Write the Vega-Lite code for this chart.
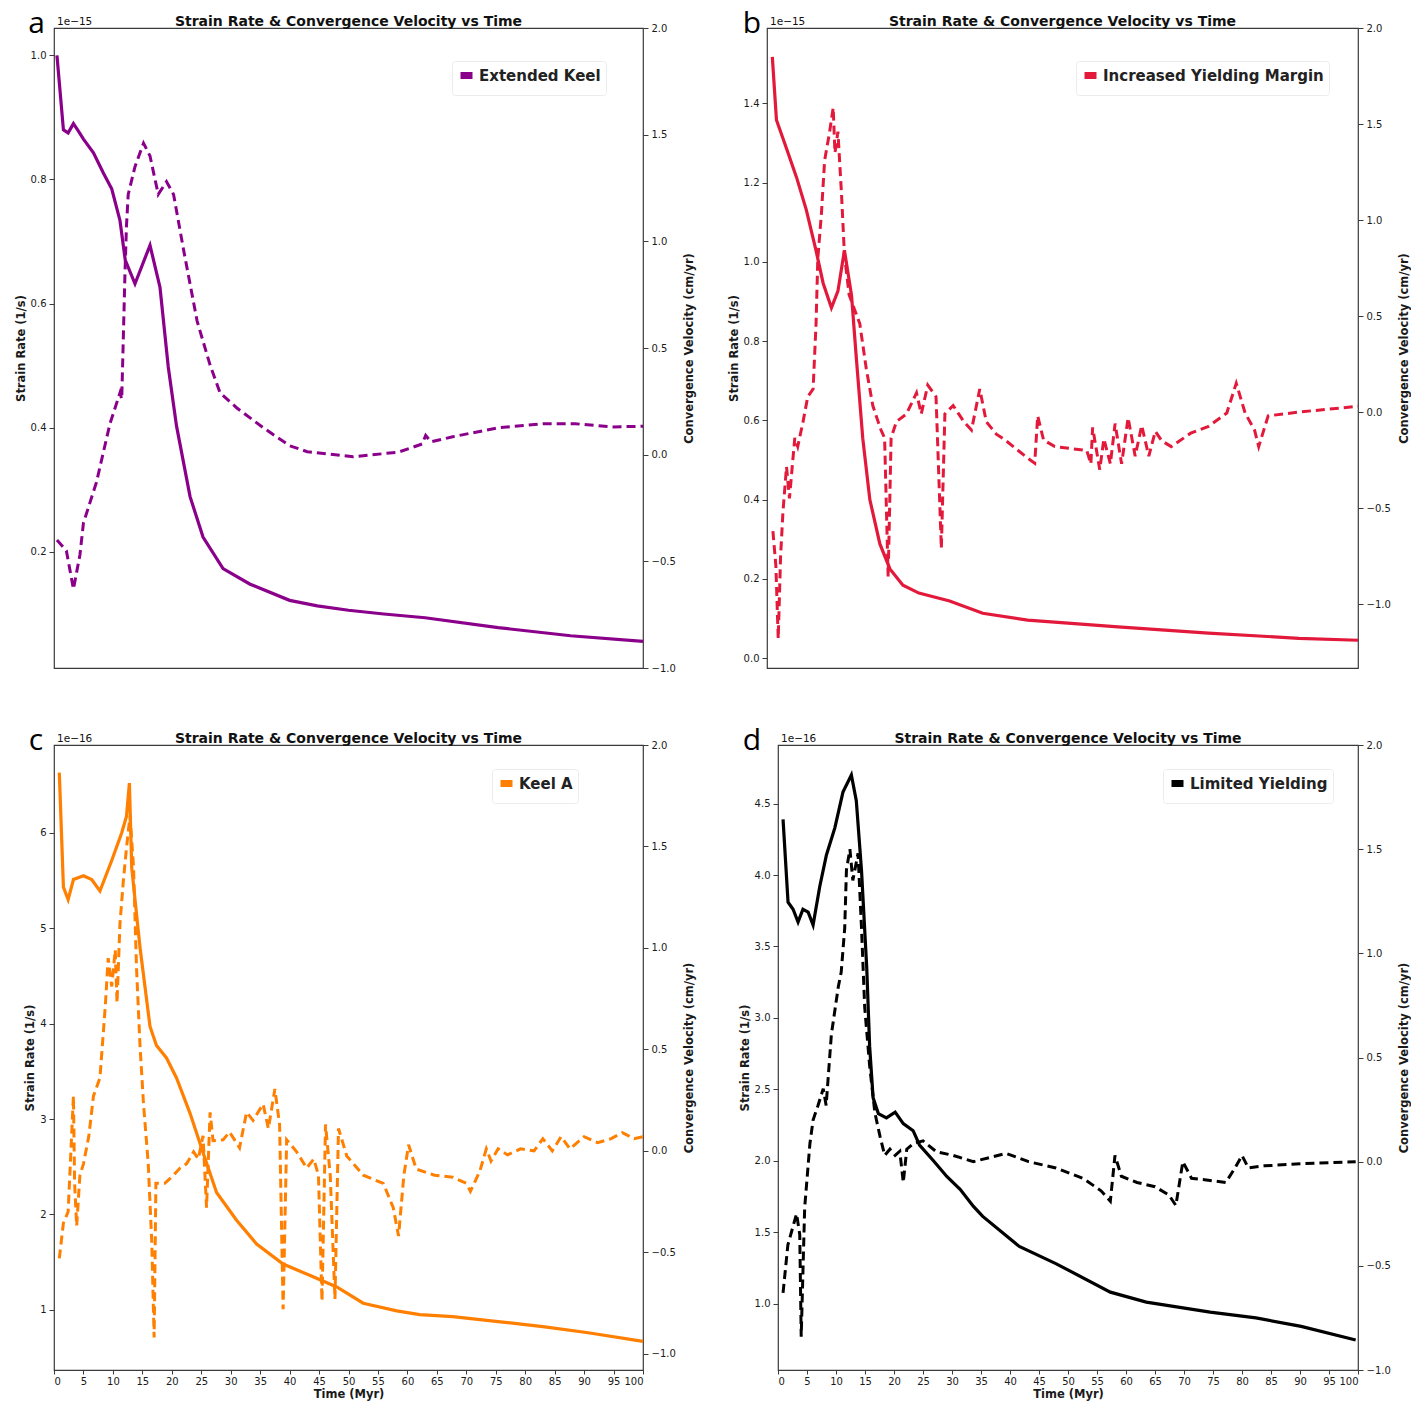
{
  "$schema": "https://vega.github.io/schema/vega-lite/v6.json",
  "padding": {"left": 14, "top": 8, "right": 0, "bottom": 0},
  "background": "white",
  "datasets": {
    "a_strain": [
      {"model": "Extended Keel", "time_myr": 0.5, "strain_rate": 1.0e-15},
      {"model": "Extended Keel", "time_myr": 1.6, "strain_rate": 0.88e-15},
      {"model": "Extended Keel", "time_myr": 2.4, "strain_rate": 0.875e-15},
      {"model": "Extended Keel", "time_myr": 3.3, "strain_rate": 0.89e-15},
      {"model": "Extended Keel", "time_myr": 4.2, "strain_rate": 0.877e-15},
      {"model": "Extended Keel", "time_myr": 5.0, "strain_rate": 0.865e-15},
      {"model": "Extended Keel", "time_myr": 6.7, "strain_rate": 0.843e-15},
      {"model": "Extended Keel", "time_myr": 8.4, "strain_rate": 0.81e-15},
      {"model": "Extended Keel", "time_myr": 9.8, "strain_rate": 0.785e-15},
      {"model": "Extended Keel", "time_myr": 11.2, "strain_rate": 0.734e-15},
      {"model": "Extended Keel", "time_myr": 12.1, "strain_rate": 0.67e-15},
      {"model": "Extended Keel", "time_myr": 13.75, "strain_rate": 0.632e-15},
      {"model": "Extended Keel", "time_myr": 16.3, "strain_rate": 0.694e-15},
      {"model": "Extended Keel", "time_myr": 18.0, "strain_rate": 0.626e-15},
      {"model": "Extended Keel", "time_myr": 19.4, "strain_rate": 0.498e-15},
      {"model": "Extended Keel", "time_myr": 20.8, "strain_rate": 0.403e-15},
      {"model": "Extended Keel", "time_myr": 23.1, "strain_rate": 0.289e-15},
      {"model": "Extended Keel", "time_myr": 25.3, "strain_rate": 0.224e-15},
      {"model": "Extended Keel", "time_myr": 28.7, "strain_rate": 0.173e-15},
      {"model": "Extended Keel", "time_myr": 33.3, "strain_rate": 0.148e-15},
      {"model": "Extended Keel", "time_myr": 40.0, "strain_rate": 0.122e-15},
      {"model": "Extended Keel", "time_myr": 44.7, "strain_rate": 0.113e-15},
      {"model": "Extended Keel", "time_myr": 50.0, "strain_rate": 0.106e-15},
      {"model": "Extended Keel", "time_myr": 56.0, "strain_rate": 0.1e-15},
      {"model": "Extended Keel", "time_myr": 63.0, "strain_rate": 0.094e-15},
      {"model": "Extended Keel", "time_myr": 75.4, "strain_rate": 0.078e-15},
      {"model": "Extended Keel", "time_myr": 87.7, "strain_rate": 0.065e-15},
      {"model": "Extended Keel", "time_myr": 100.0, "strain_rate": 0.056e-15}
    ],
    "a_vel": [
      {"model": "Extended Keel", "time_myr": 0.5, "velocity_cm_yr": -0.40},
      {"model": "Extended Keel", "time_myr": 2.1, "velocity_cm_yr": -0.45},
      {"model": "Extended Keel", "time_myr": 3.3, "velocity_cm_yr": -0.63},
      {"model": "Extended Keel", "time_myr": 4.4, "velocity_cm_yr": -0.47},
      {"model": "Extended Keel", "time_myr": 5.0, "velocity_cm_yr": -0.32},
      {"model": "Extended Keel", "time_myr": 7.2, "velocity_cm_yr": -0.13},
      {"model": "Extended Keel", "time_myr": 9.5, "velocity_cm_yr": 0.145},
      {"model": "Extended Keel", "time_myr": 11.2, "velocity_cm_yr": 0.29},
      {"model": "Extended Keel", "time_myr": 11.5, "velocity_cm_yr": 0.26},
      {"model": "Extended Keel", "time_myr": 12.05, "velocity_cm_yr": 0.85},
      {"model": "Extended Keel", "time_myr": 12.3, "velocity_cm_yr": 1.07},
      {"model": "Extended Keel", "time_myr": 12.6, "velocity_cm_yr": 1.22},
      {"model": "Extended Keel", "time_myr": 13.75, "velocity_cm_yr": 1.35},
      {"model": "Extended Keel", "time_myr": 15.2, "velocity_cm_yr": 1.46},
      {"model": "Extended Keel", "time_myr": 16.3, "velocity_cm_yr": 1.40},
      {"model": "Extended Keel", "time_myr": 17.7, "velocity_cm_yr": 1.22},
      {"model": "Extended Keel", "time_myr": 19.1, "velocity_cm_yr": 1.28},
      {"model": "Extended Keel", "time_myr": 20.3, "velocity_cm_yr": 1.22},
      {"model": "Extended Keel", "time_myr": 22.0, "velocity_cm_yr": 0.96},
      {"model": "Extended Keel", "time_myr": 24.3, "velocity_cm_yr": 0.626},
      {"model": "Extended Keel", "time_myr": 26.5, "velocity_cm_yr": 0.42},
      {"model": "Extended Keel", "time_myr": 28.2, "velocity_cm_yr": 0.29},
      {"model": "Extended Keel", "time_myr": 31.0, "velocity_cm_yr": 0.22},
      {"model": "Extended Keel", "time_myr": 35.5, "velocity_cm_yr": 0.127},
      {"model": "Extended Keel", "time_myr": 40.0, "velocity_cm_yr": 0.042},
      {"model": "Extended Keel", "time_myr": 43.0, "velocity_cm_yr": 0.014},
      {"model": "Extended Keel", "time_myr": 50.8, "velocity_cm_yr": -0.01},
      {"model": "Extended Keel", "time_myr": 58.5, "velocity_cm_yr": 0.012},
      {"model": "Extended Keel", "time_myr": 62.5, "velocity_cm_yr": 0.05},
      {"model": "Extended Keel", "time_myr": 63.1, "velocity_cm_yr": 0.09},
      {"model": "Extended Keel", "time_myr": 64.0, "velocity_cm_yr": 0.06},
      {"model": "Extended Keel", "time_myr": 67.7, "velocity_cm_yr": 0.084},
      {"model": "Extended Keel", "time_myr": 75.4, "velocity_cm_yr": 0.126},
      {"model": "Extended Keel", "time_myr": 83.1, "velocity_cm_yr": 0.145},
      {"model": "Extended Keel", "time_myr": 88.5, "velocity_cm_yr": 0.145},
      {"model": "Extended Keel", "time_myr": 94.6, "velocity_cm_yr": 0.13},
      {"model": "Extended Keel", "time_myr": 100.0, "velocity_cm_yr": 0.133}
    ],
    "b_strain": [
      {"model": "Increased Yielding Margin", "time_myr": 0.9, "strain_rate": 1.517e-15},
      {"model": "Increased Yielding Margin", "time_myr": 1.6, "strain_rate": 1.358e-15},
      {"model": "Increased Yielding Margin", "time_myr": 3.3, "strain_rate": 1.286e-15},
      {"model": "Increased Yielding Margin", "time_myr": 5.0, "strain_rate": 1.213e-15},
      {"model": "Increased Yielding Margin", "time_myr": 6.65, "strain_rate": 1.131e-15},
      {"model": "Increased Yielding Margin", "time_myr": 8.3, "strain_rate": 1.028e-15},
      {"model": "Increased Yielding Margin", "time_myr": 9.5, "strain_rate": 0.946e-15},
      {"model": "Increased Yielding Margin", "time_myr": 10.9, "strain_rate": 0.884e-15},
      {"model": "Increased Yielding Margin", "time_myr": 12.0, "strain_rate": 0.926e-15},
      {"model": "Increased Yielding Margin", "time_myr": 13.1, "strain_rate": 1.029e-15},
      {"model": "Increased Yielding Margin", "time_myr": 14.3, "strain_rate": 0.916e-15},
      {"model": "Increased Yielding Margin", "time_myr": 15.1, "strain_rate": 0.76e-15},
      {"model": "Increased Yielding Margin", "time_myr": 16.2, "strain_rate": 0.555e-15},
      {"model": "Increased Yielding Margin", "time_myr": 17.4, "strain_rate": 0.40e-15},
      {"model": "Increased Yielding Margin", "time_myr": 19.1, "strain_rate": 0.288e-15},
      {"model": "Increased Yielding Margin", "time_myr": 20.8, "strain_rate": 0.225e-15},
      {"model": "Increased Yielding Margin", "time_myr": 23.0, "strain_rate": 0.184e-15},
      {"model": "Increased Yielding Margin", "time_myr": 25.7, "strain_rate": 0.164e-15},
      {"model": "Increased Yielding Margin", "time_myr": 30.9, "strain_rate": 0.144e-15},
      {"model": "Increased Yielding Margin", "time_myr": 36.5, "strain_rate": 0.113e-15},
      {"model": "Increased Yielding Margin", "time_myr": 44.1, "strain_rate": 0.096e-15},
      {"model": "Increased Yielding Margin", "time_myr": 59.4, "strain_rate": 0.079e-15},
      {"model": "Increased Yielding Margin", "time_myr": 74.7, "strain_rate": 0.063e-15},
      {"model": "Increased Yielding Margin", "time_myr": 90.0, "strain_rate": 0.05e-15},
      {"model": "Increased Yielding Margin", "time_myr": 100.0, "strain_rate": 0.045e-15}
    ],
    "b_vel": [
      {"model": "Increased Yielding Margin", "time_myr": 1.0, "velocity_cm_yr": -0.62},
      {"model": "Increased Yielding Margin", "time_myr": 1.5, "velocity_cm_yr": -0.80},
      {"model": "Increased Yielding Margin", "time_myr": 1.9, "velocity_cm_yr": -1.18},
      {"model": "Increased Yielding Margin", "time_myr": 2.3, "velocity_cm_yr": -0.75},
      {"model": "Increased Yielding Margin", "time_myr": 2.7, "velocity_cm_yr": -0.52},
      {"model": "Increased Yielding Margin", "time_myr": 3.3, "velocity_cm_yr": -0.285},
      {"model": "Increased Yielding Margin", "time_myr": 3.8, "velocity_cm_yr": -0.45},
      {"model": "Increased Yielding Margin", "time_myr": 4.7, "velocity_cm_yr": -0.135},
      {"model": "Increased Yielding Margin", "time_myr": 5.2, "velocity_cm_yr": -0.18},
      {"model": "Increased Yielding Margin", "time_myr": 6.1, "velocity_cm_yr": -0.05},
      {"model": "Increased Yielding Margin", "time_myr": 6.9, "velocity_cm_yr": 0.08},
      {"model": "Increased Yielding Margin", "time_myr": 7.8, "velocity_cm_yr": 0.12},
      {"model": "Increased Yielding Margin", "time_myr": 8.3, "velocity_cm_yr": 0.46},
      {"model": "Increased Yielding Margin", "time_myr": 8.6, "velocity_cm_yr": 0.80},
      {"model": "Increased Yielding Margin", "time_myr": 9.2, "velocity_cm_yr": 1.03},
      {"model": "Increased Yielding Margin", "time_myr": 9.75, "velocity_cm_yr": 1.31},
      {"model": "Increased Yielding Margin", "time_myr": 10.6, "velocity_cm_yr": 1.46},
      {"model": "Increased Yielding Margin", "time_myr": 11.2, "velocity_cm_yr": 1.585},
      {"model": "Increased Yielding Margin", "time_myr": 11.5, "velocity_cm_yr": 1.35},
      {"model": "Increased Yielding Margin", "time_myr": 12.0, "velocity_cm_yr": 1.46},
      {"model": "Increased Yielding Margin", "time_myr": 12.6, "velocity_cm_yr": 1.14},
      {"model": "Increased Yielding Margin", "time_myr": 13.1, "velocity_cm_yr": 0.82},
      {"model": "Increased Yielding Margin", "time_myr": 13.9, "velocity_cm_yr": 0.61},
      {"model": "Increased Yielding Margin", "time_myr": 15.7, "velocity_cm_yr": 0.46},
      {"model": "Increased Yielding Margin", "time_myr": 16.8, "velocity_cm_yr": 0.225},
      {"model": "Increased Yielding Margin", "time_myr": 17.9, "velocity_cm_yr": 0.034},
      {"model": "Increased Yielding Margin", "time_myr": 18.8, "velocity_cm_yr": -0.05},
      {"model": "Increased Yielding Margin", "time_myr": 19.3, "velocity_cm_yr": -0.094},
      {"model": "Increased Yielding Margin", "time_myr": 19.9, "velocity_cm_yr": -0.135},
      {"model": "Increased Yielding Margin", "time_myr": 20.5, "velocity_cm_yr": -0.86},
      {"model": "Increased Yielding Margin", "time_myr": 21.0, "velocity_cm_yr": -0.135},
      {"model": "Increased Yielding Margin", "time_myr": 21.9, "velocity_cm_yr": -0.05},
      {"model": "Increased Yielding Margin", "time_myr": 23.6, "velocity_cm_yr": -0.01},
      {"model": "Increased Yielding Margin", "time_myr": 25.3, "velocity_cm_yr": 0.10},
      {"model": "Increased Yielding Margin", "time_myr": 26.1, "velocity_cm_yr": -0.01},
      {"model": "Increased Yielding Margin", "time_myr": 27.2, "velocity_cm_yr": 0.14},
      {"model": "Increased Yielding Margin", "time_myr": 28.6, "velocity_cm_yr": 0.08},
      {"model": "Increased Yielding Margin", "time_myr": 29.5, "velocity_cm_yr": -0.71},
      {"model": "Increased Yielding Margin", "time_myr": 30.1, "velocity_cm_yr": -0.01},
      {"model": "Increased Yielding Margin", "time_myr": 31.5, "velocity_cm_yr": 0.034},
      {"model": "Increased Yielding Margin", "time_myr": 33.3, "velocity_cm_yr": -0.05},
      {"model": "Increased Yielding Margin", "time_myr": 34.6, "velocity_cm_yr": -0.094},
      {"model": "Increased Yielding Margin", "time_myr": 36.0, "velocity_cm_yr": 0.12},
      {"model": "Increased Yielding Margin", "time_myr": 37.1, "velocity_cm_yr": -0.05},
      {"model": "Increased Yielding Margin", "time_myr": 38.8, "velocity_cm_yr": -0.115},
      {"model": "Increased Yielding Margin", "time_myr": 40.3, "velocity_cm_yr": -0.146},
      {"model": "Increased Yielding Margin", "time_myr": 44.1, "velocity_cm_yr": -0.24},
      {"model": "Increased Yielding Margin", "time_myr": 45.3, "velocity_cm_yr": -0.266},
      {"model": "Increased Yielding Margin", "time_myr": 45.8, "velocity_cm_yr": -0.02},
      {"model": "Increased Yielding Margin", "time_myr": 46.8, "velocity_cm_yr": -0.146},
      {"model": "Increased Yielding Margin", "time_myr": 48.7, "velocity_cm_yr": -0.18},
      {"model": "Increased Yielding Margin", "time_myr": 54.1, "velocity_cm_yr": -0.2},
      {"model": "Increased Yielding Margin", "time_myr": 54.8, "velocity_cm_yr": -0.27},
      {"model": "Increased Yielding Margin", "time_myr": 55.1, "velocity_cm_yr": -0.08},
      {"model": "Increased Yielding Margin", "time_myr": 56.3, "velocity_cm_yr": -0.30},
      {"model": "Increased Yielding Margin", "time_myr": 57.0, "velocity_cm_yr": -0.14},
      {"model": "Increased Yielding Margin", "time_myr": 58.1, "velocity_cm_yr": -0.27},
      {"model": "Increased Yielding Margin", "time_myr": 58.9, "velocity_cm_yr": -0.06},
      {"model": "Increased Yielding Margin", "time_myr": 60.0, "velocity_cm_yr": -0.27},
      {"model": "Increased Yielding Margin", "time_myr": 61.1, "velocity_cm_yr": -0.03},
      {"model": "Increased Yielding Margin", "time_myr": 62.3, "velocity_cm_yr": -0.23},
      {"model": "Increased Yielding Margin", "time_myr": 63.4, "velocity_cm_yr": -0.07},
      {"model": "Increased Yielding Margin", "time_myr": 64.6, "velocity_cm_yr": -0.23},
      {"model": "Increased Yielding Margin", "time_myr": 65.7, "velocity_cm_yr": -0.10},
      {"model": "Increased Yielding Margin", "time_myr": 66.8, "velocity_cm_yr": -0.15},
      {"model": "Increased Yielding Margin", "time_myr": 68.4, "velocity_cm_yr": -0.18},
      {"model": "Increased Yielding Margin", "time_myr": 71.7, "velocity_cm_yr": -0.11},
      {"model": "Increased Yielding Margin", "time_myr": 74.7, "velocity_cm_yr": -0.075},
      {"model": "Increased Yielding Margin", "time_myr": 77.8, "velocity_cm_yr": -0.005},
      {"model": "Increased Yielding Margin", "time_myr": 79.4, "velocity_cm_yr": 0.15},
      {"model": "Increased Yielding Margin", "time_myr": 80.9, "velocity_cm_yr": -0.005},
      {"model": "Increased Yielding Margin", "time_myr": 82.5, "velocity_cm_yr": -0.094},
      {"model": "Increased Yielding Margin", "time_myr": 83.2, "velocity_cm_yr": -0.18},
      {"model": "Increased Yielding Margin", "time_myr": 84.8, "velocity_cm_yr": -0.02},
      {"model": "Increased Yielding Margin", "time_myr": 90.0, "velocity_cm_yr": 0.0},
      {"model": "Increased Yielding Margin", "time_myr": 100.0, "velocity_cm_yr": 0.03}
    ],
    "c_strain": [
      {"model": "Keel A", "time_myr": 0.9, "strain_rate": 6.63e-16},
      {"model": "Keel A", "time_myr": 1.6, "strain_rate": 5.43e-16},
      {"model": "Keel A", "time_myr": 2.4, "strain_rate": 5.30e-16},
      {"model": "Keel A", "time_myr": 3.3, "strain_rate": 5.51e-16},
      {"model": "Keel A", "time_myr": 5.0, "strain_rate": 5.55e-16},
      {"model": "Keel A", "time_myr": 6.4, "strain_rate": 5.51e-16},
      {"model": "Keel A", "time_myr": 7.8, "strain_rate": 5.39e-16},
      {"model": "Keel A", "time_myr": 9.8, "strain_rate": 5.71e-16},
      {"model": "Keel A", "time_myr": 11.5, "strain_rate": 6.0e-16},
      {"model": "Keel A", "time_myr": 12.3, "strain_rate": 6.17e-16},
      {"model": "Keel A", "time_myr": 12.8, "strain_rate": 6.52e-16},
      {"model": "Keel A", "time_myr": 13.2, "strain_rate": 5.63e-16},
      {"model": "Keel A", "time_myr": 14.6, "strain_rate": 4.80e-16},
      {"model": "Keel A", "time_myr": 16.3, "strain_rate": 3.97e-16},
      {"model": "Keel A", "time_myr": 17.4, "strain_rate": 3.77e-16},
      {"model": "Keel A", "time_myr": 19.1, "strain_rate": 3.64e-16},
      {"model": "Keel A", "time_myr": 20.8, "strain_rate": 3.43e-16},
      {"model": "Keel A", "time_myr": 23.1, "strain_rate": 3.06e-16},
      {"model": "Keel A", "time_myr": 25.3, "strain_rate": 2.65e-16},
      {"model": "Keel A", "time_myr": 27.6, "strain_rate": 2.23e-16},
      {"model": "Keel A", "time_myr": 31.0, "strain_rate": 1.94e-16},
      {"model": "Keel A", "time_myr": 34.4, "strain_rate": 1.69e-16},
      {"model": "Keel A", "time_myr": 38.9, "strain_rate": 1.48e-16},
      {"model": "Keel A", "time_myr": 43.5, "strain_rate": 1.36e-16},
      {"model": "Keel A", "time_myr": 48.0, "strain_rate": 1.24e-16},
      {"model": "Keel A", "time_myr": 52.5, "strain_rate": 1.07e-16},
      {"model": "Keel A", "time_myr": 58.2, "strain_rate": 0.99e-16},
      {"model": "Keel A", "time_myr": 62.1, "strain_rate": 0.95e-16},
      {"model": "Keel A", "time_myr": 67.7, "strain_rate": 0.93e-16},
      {"model": "Keel A", "time_myr": 75.4, "strain_rate": 0.877e-16},
      {"model": "Keel A", "time_myr": 83.0, "strain_rate": 0.825e-16},
      {"model": "Keel A", "time_myr": 90.7, "strain_rate": 0.76e-16},
      {"model": "Keel A", "time_myr": 100.0, "strain_rate": 0.67e-16}
    ],
    "c_vel": [
      {"model": "Keel A", "time_myr": 0.9, "velocity_cm_yr": -0.53},
      {"model": "Keel A", "time_myr": 1.6, "velocity_cm_yr": -0.355},
      {"model": "Keel A", "time_myr": 2.4, "velocity_cm_yr": -0.30},
      {"model": "Keel A", "time_myr": 3.3, "velocity_cm_yr": 0.27},
      {"model": "Keel A", "time_myr": 3.5, "velocity_cm_yr": -0.16},
      {"model": "Keel A", "time_myr": 3.85, "velocity_cm_yr": -0.37},
      {"model": "Keel A", "time_myr": 4.4, "velocity_cm_yr": -0.12},
      {"model": "Keel A", "time_myr": 5.0, "velocity_cm_yr": -0.064},
      {"model": "Keel A", "time_myr": 5.9, "velocity_cm_yr": 0.07},
      {"model": "Keel A", "time_myr": 6.7, "velocity_cm_yr": 0.27},
      {"model": "Keel A", "time_myr": 7.8, "velocity_cm_yr": 0.36},
      {"model": "Keel A", "time_myr": 8.7, "velocity_cm_yr": 0.71},
      {"model": "Keel A", "time_myr": 9.2, "velocity_cm_yr": 0.95},
      {"model": "Keel A", "time_myr": 9.8, "velocity_cm_yr": 0.81},
      {"model": "Keel A", "time_myr": 10.4, "velocity_cm_yr": 0.99},
      {"model": "Keel A", "time_myr": 10.7, "velocity_cm_yr": 0.73},
      {"model": "Keel A", "time_myr": 11.2, "velocity_cm_yr": 1.12},
      {"model": "Keel A", "time_myr": 11.8, "velocity_cm_yr": 1.34},
      {"model": "Keel A", "time_myr": 12.3, "velocity_cm_yr": 1.49},
      {"model": "Keel A", "time_myr": 12.9, "velocity_cm_yr": 1.65},
      {"model": "Keel A", "time_myr": 13.5, "velocity_cm_yr": 1.40},
      {"model": "Keel A", "time_myr": 14.0, "velocity_cm_yr": 0.91},
      {"model": "Keel A", "time_myr": 14.6, "velocity_cm_yr": 0.52},
      {"model": "Keel A", "time_myr": 15.2, "velocity_cm_yr": 0.23},
      {"model": "Keel A", "time_myr": 16.0, "velocity_cm_yr": -0.064},
      {"model": "Keel A", "time_myr": 16.6, "velocity_cm_yr": -0.45},
      {"model": "Keel A", "time_myr": 17.0, "velocity_cm_yr": -0.92},
      {"model": "Keel A", "time_myr": 17.3, "velocity_cm_yr": -0.16},
      {"model": "Keel A", "time_myr": 18.8, "velocity_cm_yr": -0.16},
      {"model": "Keel A", "time_myr": 20.3, "velocity_cm_yr": -0.12},
      {"model": "Keel A", "time_myr": 21.4, "velocity_cm_yr": -0.085},
      {"model": "Keel A", "time_myr": 22.5, "velocity_cm_yr": -0.064},
      {"model": "Keel A", "time_myr": 23.7, "velocity_cm_yr": -0.005},
      {"model": "Keel A", "time_myr": 24.5, "velocity_cm_yr": -0.04},
      {"model": "Keel A", "time_myr": 25.3, "velocity_cm_yr": 0.074},
      {"model": "Keel A", "time_myr": 25.9, "velocity_cm_yr": -0.28},
      {"model": "Keel A", "time_myr": 26.5, "velocity_cm_yr": 0.19},
      {"model": "Keel A", "time_myr": 27.0, "velocity_cm_yr": 0.05},
      {"model": "Keel A", "time_myr": 28.7, "velocity_cm_yr": 0.054},
      {"model": "Keel A", "time_myr": 29.8, "velocity_cm_yr": 0.093},
      {"model": "Keel A", "time_myr": 31.5, "velocity_cm_yr": 0.015},
      {"model": "Keel A", "time_myr": 32.7, "velocity_cm_yr": 0.19},
      {"model": "Keel A", "time_myr": 33.8, "velocity_cm_yr": 0.15},
      {"model": "Keel A", "time_myr": 35.5, "velocity_cm_yr": 0.23},
      {"model": "Keel A", "time_myr": 36.4, "velocity_cm_yr": 0.11},
      {"model": "Keel A", "time_myr": 37.5, "velocity_cm_yr": 0.305},
      {"model": "Keel A", "time_myr": 38.3, "velocity_cm_yr": 0.13},
      {"model": "Keel A", "time_myr": 38.9, "velocity_cm_yr": -0.78},
      {"model": "Keel A", "time_myr": 39.5, "velocity_cm_yr": 0.054},
      {"model": "Keel A", "time_myr": 41.2, "velocity_cm_yr": -0.005},
      {"model": "Keel A", "time_myr": 42.9, "velocity_cm_yr": -0.085},
      {"model": "Keel A", "time_myr": 44.1, "velocity_cm_yr": -0.04},
      {"model": "Keel A", "time_myr": 44.9, "velocity_cm_yr": -0.12},
      {"model": "Keel A", "time_myr": 45.5, "velocity_cm_yr": -0.74},
      {"model": "Keel A", "time_myr": 46.1, "velocity_cm_yr": 0.13},
      {"model": "Keel A", "time_myr": 46.9, "velocity_cm_yr": -0.12},
      {"model": "Keel A", "time_myr": 47.7, "velocity_cm_yr": -0.73},
      {"model": "Keel A", "time_myr": 48.3, "velocity_cm_yr": 0.11},
      {"model": "Keel A", "time_myr": 49.7, "velocity_cm_yr": -0.025},
      {"model": "Keel A", "time_myr": 52.5, "velocity_cm_yr": -0.12},
      {"model": "Keel A", "time_myr": 55.9, "velocity_cm_yr": -0.16},
      {"model": "Keel A", "time_myr": 57.6, "velocity_cm_yr": -0.28},
      {"model": "Keel A", "time_myr": 58.5, "velocity_cm_yr": -0.42},
      {"model": "Keel A", "time_myr": 59.4, "velocity_cm_yr": -0.12},
      {"model": "Keel A", "time_myr": 60.2, "velocity_cm_yr": 0.03},
      {"model": "Keel A", "time_myr": 61.5, "velocity_cm_yr": -0.09},
      {"model": "Keel A", "time_myr": 64.6, "velocity_cm_yr": -0.12},
      {"model": "Keel A", "time_myr": 67.7, "velocity_cm_yr": -0.13},
      {"model": "Keel A", "time_myr": 70.0, "velocity_cm_yr": -0.16},
      {"model": "Keel A", "time_myr": 70.7, "velocity_cm_yr": -0.2},
      {"model": "Keel A", "time_myr": 72.3, "velocity_cm_yr": -0.1},
      {"model": "Keel A", "time_myr": 73.4, "velocity_cm_yr": 0.01},
      {"model": "Keel A", "time_myr": 74.2, "velocity_cm_yr": -0.05},
      {"model": "Keel A", "time_myr": 75.4, "velocity_cm_yr": 0.01},
      {"model": "Keel A", "time_myr": 77.0, "velocity_cm_yr": -0.02},
      {"model": "Keel A", "time_myr": 79.2, "velocity_cm_yr": 0.01},
      {"model": "Keel A", "time_myr": 81.5, "velocity_cm_yr": 0.0},
      {"model": "Keel A", "time_myr": 83.0, "velocity_cm_yr": 0.06},
      {"model": "Keel A", "time_myr": 84.6, "velocity_cm_yr": 0.0},
      {"model": "Keel A", "time_myr": 86.1, "velocity_cm_yr": 0.07},
      {"model": "Keel A", "time_myr": 87.6, "velocity_cm_yr": 0.01},
      {"model": "Keel A", "time_myr": 90.0, "velocity_cm_yr": 0.07},
      {"model": "Keel A", "time_myr": 92.3, "velocity_cm_yr": 0.04},
      {"model": "Keel A", "time_myr": 94.6, "velocity_cm_yr": 0.06},
      {"model": "Keel A", "time_myr": 96.5, "velocity_cm_yr": 0.09},
      {"model": "Keel A", "time_myr": 98.5, "velocity_cm_yr": 0.06},
      {"model": "Keel A", "time_myr": 100.0, "velocity_cm_yr": 0.07}
    ],
    "d_strain": [
      {"model": "Limited Yielding", "time_myr": 0.87, "strain_rate": 4.39e-16},
      {"model": "Limited Yielding", "time_myr": 1.73, "strain_rate": 3.81e-16},
      {"model": "Limited Yielding", "time_myr": 2.6, "strain_rate": 3.76e-16},
      {"model": "Limited Yielding", "time_myr": 3.46, "strain_rate": 3.67e-16},
      {"model": "Limited Yielding", "time_myr": 4.3, "strain_rate": 3.76e-16},
      {"model": "Limited Yielding", "time_myr": 5.2, "strain_rate": 3.74e-16},
      {"model": "Limited Yielding", "time_myr": 6.05, "strain_rate": 3.65e-16},
      {"model": "Limited Yielding", "time_myr": 7.2, "strain_rate": 3.92e-16},
      {"model": "Limited Yielding", "time_myr": 8.35, "strain_rate": 4.14e-16},
      {"model": "Limited Yielding", "time_myr": 9.8, "strain_rate": 4.33e-16},
      {"model": "Limited Yielding", "time_myr": 11.2, "strain_rate": 4.58e-16},
      {"model": "Limited Yielding", "time_myr": 12.65, "strain_rate": 4.70e-16},
      {"model": "Limited Yielding", "time_myr": 13.5, "strain_rate": 4.52e-16},
      {"model": "Limited Yielding", "time_myr": 14.4, "strain_rate": 4.03e-16},
      {"model": "Limited Yielding", "time_myr": 15.3, "strain_rate": 3.35e-16},
      {"model": "Limited Yielding", "time_myr": 15.8, "strain_rate": 2.80e-16},
      {"model": "Limited Yielding", "time_myr": 16.4, "strain_rate": 2.44e-16},
      {"model": "Limited Yielding", "time_myr": 17.3, "strain_rate": 2.33e-16},
      {"model": "Limited Yielding", "time_myr": 18.7, "strain_rate": 2.30e-16},
      {"model": "Limited Yielding", "time_myr": 20.2, "strain_rate": 2.34e-16},
      {"model": "Limited Yielding", "time_myr": 21.6, "strain_rate": 2.26e-16},
      {"model": "Limited Yielding", "time_myr": 23.3, "strain_rate": 2.21e-16},
      {"model": "Limited Yielding", "time_myr": 24.4, "strain_rate": 2.11e-16},
      {"model": "Limited Yielding", "time_myr": 26.8, "strain_rate": 2.0e-16},
      {"model": "Limited Yielding", "time_myr": 29.1, "strain_rate": 1.89e-16},
      {"model": "Limited Yielding", "time_myr": 31.4, "strain_rate": 1.80e-16},
      {"model": "Limited Yielding", "time_myr": 33.7, "strain_rate": 1.68e-16},
      {"model": "Limited Yielding", "time_myr": 35.3, "strain_rate": 1.61e-16},
      {"model": "Limited Yielding", "time_myr": 41.6, "strain_rate": 1.40e-16},
      {"model": "Limited Yielding", "time_myr": 47.9, "strain_rate": 1.28e-16},
      {"model": "Limited Yielding", "time_myr": 57.3, "strain_rate": 1.08e-16},
      {"model": "Limited Yielding", "time_myr": 63.5, "strain_rate": 1.01e-16},
      {"model": "Limited Yielding", "time_myr": 74.5, "strain_rate": 0.94e-16},
      {"model": "Limited Yielding", "time_myr": 82.4, "strain_rate": 0.90e-16},
      {"model": "Limited Yielding", "time_myr": 90.2, "strain_rate": 0.84e-16},
      {"model": "Limited Yielding", "time_myr": 99.6, "strain_rate": 0.745e-16}
    ],
    "d_vel": [
      {"model": "Limited Yielding", "time_myr": 0.87, "velocity_cm_yr": -0.63},
      {"model": "Limited Yielding", "time_myr": 1.7, "velocity_cm_yr": -0.40},
      {"model": "Limited Yielding", "time_myr": 2.6, "velocity_cm_yr": -0.31},
      {"model": "Limited Yielding", "time_myr": 3.2, "velocity_cm_yr": -0.25},
      {"model": "Limited Yielding", "time_myr": 3.75, "velocity_cm_yr": -0.35},
      {"model": "Limited Yielding", "time_myr": 4.0, "velocity_cm_yr": -0.84},
      {"model": "Limited Yielding", "time_myr": 4.6, "velocity_cm_yr": -0.22},
      {"model": "Limited Yielding", "time_myr": 5.5, "velocity_cm_yr": 0.086},
      {"model": "Limited Yielding", "time_myr": 6.05, "velocity_cm_yr": 0.20},
      {"model": "Limited Yielding", "time_myr": 6.9, "velocity_cm_yr": 0.27},
      {"model": "Limited Yielding", "time_myr": 7.8, "velocity_cm_yr": 0.35},
      {"model": "Limited Yielding", "time_myr": 8.3, "velocity_cm_yr": 0.27},
      {"model": "Limited Yielding", "time_myr": 9.2, "velocity_cm_yr": 0.61},
      {"model": "Limited Yielding", "time_myr": 10.4, "velocity_cm_yr": 0.84},
      {"model": "Limited Yielding", "time_myr": 10.9, "velocity_cm_yr": 0.91},
      {"model": "Limited Yielding", "time_myr": 11.5, "velocity_cm_yr": 1.12},
      {"model": "Limited Yielding", "time_myr": 11.8, "velocity_cm_yr": 1.40},
      {"model": "Limited Yielding", "time_myr": 12.4, "velocity_cm_yr": 1.50},
      {"model": "Limited Yielding", "time_myr": 12.9, "velocity_cm_yr": 1.35},
      {"model": "Limited Yielding", "time_myr": 13.8, "velocity_cm_yr": 1.48},
      {"model": "Limited Yielding", "time_myr": 14.4, "velocity_cm_yr": 1.12},
      {"model": "Limited Yielding", "time_myr": 14.95, "velocity_cm_yr": 0.74},
      {"model": "Limited Yielding", "time_myr": 15.8, "velocity_cm_yr": 0.46},
      {"model": "Limited Yielding", "time_myr": 16.7, "velocity_cm_yr": 0.235},
      {"model": "Limited Yielding", "time_myr": 17.6, "velocity_cm_yr": 0.12},
      {"model": "Limited Yielding", "time_myr": 18.4, "velocity_cm_yr": 0.03},
      {"model": "Limited Yielding", "time_myr": 19.3, "velocity_cm_yr": 0.06},
      {"model": "Limited Yielding", "time_myr": 20.2, "velocity_cm_yr": 0.03},
      {"model": "Limited Yielding", "time_myr": 21.0, "velocity_cm_yr": 0.05},
      {"model": "Limited Yielding", "time_myr": 21.6, "velocity_cm_yr": -0.10},
      {"model": "Limited Yielding", "time_myr": 22.2, "velocity_cm_yr": 0.06},
      {"model": "Limited Yielding", "time_myr": 23.3, "velocity_cm_yr": 0.086},
      {"model": "Limited Yielding", "time_myr": 25.0, "velocity_cm_yr": 0.10},
      {"model": "Limited Yielding", "time_myr": 27.3, "velocity_cm_yr": 0.048},
      {"model": "Limited Yielding", "time_myr": 30.2, "velocity_cm_yr": 0.03},
      {"model": "Limited Yielding", "time_myr": 33.7, "velocity_cm_yr": 0.0},
      {"model": "Limited Yielding", "time_myr": 39.3, "velocity_cm_yr": 0.04},
      {"model": "Limited Yielding", "time_myr": 43.2, "velocity_cm_yr": 0.0},
      {"model": "Limited Yielding", "time_myr": 47.9, "velocity_cm_yr": -0.03},
      {"model": "Limited Yielding", "time_myr": 52.6, "velocity_cm_yr": -0.08},
      {"model": "Limited Yielding", "time_myr": 55.7, "velocity_cm_yr": -0.14},
      {"model": "Limited Yielding", "time_myr": 57.3, "velocity_cm_yr": -0.19},
      {"model": "Limited Yielding", "time_myr": 58.1, "velocity_cm_yr": 0.03},
      {"model": "Limited Yielding", "time_myr": 59.2, "velocity_cm_yr": -0.07},
      {"model": "Limited Yielding", "time_myr": 61.9, "velocity_cm_yr": -0.10},
      {"model": "Limited Yielding", "time_myr": 65.0, "velocity_cm_yr": -0.12},
      {"model": "Limited Yielding", "time_myr": 67.4, "velocity_cm_yr": -0.16},
      {"model": "Limited Yielding", "time_myr": 68.6, "velocity_cm_yr": -0.21},
      {"model": "Limited Yielding", "time_myr": 69.8, "velocity_cm_yr": 0.0},
      {"model": "Limited Yielding", "time_myr": 71.3, "velocity_cm_yr": -0.08},
      {"model": "Limited Yielding", "time_myr": 74.5, "velocity_cm_yr": -0.09},
      {"model": "Limited Yielding", "time_myr": 77.2, "velocity_cm_yr": -0.10},
      {"model": "Limited Yielding", "time_myr": 78.8, "velocity_cm_yr": -0.03},
      {"model": "Limited Yielding", "time_myr": 80.0, "velocity_cm_yr": 0.03},
      {"model": "Limited Yielding", "time_myr": 81.1, "velocity_cm_yr": -0.03},
      {"model": "Limited Yielding", "time_myr": 83.9, "velocity_cm_yr": -0.02},
      {"model": "Limited Yielding", "time_myr": 90.2, "velocity_cm_yr": -0.01},
      {"model": "Limited Yielding", "time_myr": 99.6, "velocity_cm_yr": 0.0}
    ]
  },
  "vconcat": [
    {
      "hconcat": [
        {
          "width": 589, "height": 640,
          "title": {"text": "Strain Rate & Convergence Velocity vs Time", "dy": 24},
          "layer": [
            {"layer": [
              {"data": {"name": "a_strain"},
               "mark": {"type": "line", "strokeWidth": 3.2},
               "encoding": {
                 "x": {"field": "time_myr", "type": "quantitative", "scale": {"domain": [0, 100], "nice": false}, "axis": null},
                 "y": {"field": "strain_rate", "type": "quantitative", "scale": {"domain": [0.013e-15, 1.044e-15], "nice": false, "zero": false},
                       "axis": {"title": "Strain Rate (1/s)", "values": [0.2e-15, 0.4e-15, 0.6e-15, 0.8e-15, 1.0e-15], "labelExpr": "format(datum.value*1e15, '.1f')"}},
                 "color": {"field": "model", "type": "nominal", "scale": {"range": ["#8B008B"]}, "legend": {"title": null, "legendX": 398, "legendY": 33}}
               }},
              {"data": {"values": [{"label": "a"}]},
               "mark": {"type": "text", "font": "Open Sans", "fontSize": 30, "align": "right", "baseline": "alphabetic", "dx": -9, "dy": 5, "color": "#000"},
               "encoding": {"x": {"datum": 0, "type": "quantitative", "axis": null},
                            "y": {"datum": 1.044e-15, "type": "quantitative", "axis": {"title": "Strain Rate (1/s)", "values": [0.2e-15, 0.4e-15, 0.6e-15, 0.8e-15, 1.0e-15], "labelExpr": "format(datum.value*1e15, '.1f')"}},
                            "text": {"field": "label"}}},
              {"data": {"values": [{"label": "1e−15"}]},
               "mark": {"type": "text", "fontSize": 10.5, "align": "left", "baseline": "bottom", "dx": 3, "dy": -1, "color": "#111"},
               "encoding": {"x": {"datum": 0, "type": "quantitative", "axis": null},
                            "y": {"datum": 1.044e-15, "type": "quantitative", "axis": {"title": "Strain Rate (1/s)", "values": [0.2e-15, 0.4e-15, 0.6e-15, 0.8e-15, 1.0e-15], "labelExpr": "format(datum.value*1e15, '.1f')"}},
                            "text": {"field": "label"}}}
            ]},
            {"data": {"name": "a_vel"},
             "mark": {"type": "line", "strokeWidth": 3, "strokeDash": [9, 5], "color": "#8B008B"},
             "encoding": {
               "x": {"field": "time_myr", "type": "quantitative", "scale": {"domain": [0, 100], "nice": false}, "axis": null},
               "y": {"field": "velocity_cm_yr", "type": "quantitative", "scale": {"domain": [-1, 2], "nice": false, "zero": false},
                     "axis": {"orient": "right", "title": "Convergence Velocity (cm/yr)", "values": [-1, -0.5, 0, 0.5, 1, 1.5, 2], "format": ".1f", "titleAngle": 270, "titleBaseline": "top", "titlePadding": 8}}
             }}
          ],
          "resolve": {"scale": {"y": "independent"}}
        },
        {
          "width": 591, "height": 640,
          "title": {"text": "Strain Rate & Convergence Velocity vs Time", "dy": 24},
          "layer": [
            {"layer": [
              {"data": {"name": "b_strain"},
               "mark": {"type": "line", "strokeWidth": 3.2},
               "encoding": {
                 "x": {"field": "time_myr", "type": "quantitative", "scale": {"domain": [0, 100], "nice": false}, "axis": null},
                 "y": {"field": "strain_rate", "type": "quantitative", "scale": {"domain": [-0.025e-15, 1.59e-15], "nice": false, "zero": false},
                       "axis": {"title": "Strain Rate (1/s)", "values": [0, 0.2e-15, 0.4e-15, 0.6e-15, 0.8e-15, 1.0e-15, 1.2e-15, 1.4e-15], "labelExpr": "format(datum.value*1e15, '.1f')"}},
                 "color": {"field": "model", "type": "nominal", "scale": {"range": ["#E3193B"]}, "legend": {"title": null, "legendX": 309, "legendY": 33}}
               }},
              {"data": {"values": [{"label": "b"}]},
               "mark": {"type": "text", "font": "Open Sans", "fontSize": 30, "align": "right", "baseline": "alphabetic", "dx": -6, "dy": 5, "color": "#000"},
               "encoding": {"x": {"datum": 0, "type": "quantitative", "axis": null},
                            "y": {"datum": 1.59e-15, "type": "quantitative", "axis": {"title": "Strain Rate (1/s)", "values": [0, 0.2e-15, 0.4e-15, 0.6e-15, 0.8e-15, 1.0e-15, 1.2e-15, 1.4e-15], "labelExpr": "format(datum.value*1e15, '.1f')"}},
                            "text": {"field": "label"}}},
              {"data": {"values": [{"label": "1e−15"}]},
               "mark": {"type": "text", "fontSize": 10.5, "align": "left", "baseline": "bottom", "dx": 3, "dy": -1, "color": "#111"},
               "encoding": {"x": {"datum": 0, "type": "quantitative", "axis": null},
                            "y": {"datum": 1.59e-15, "type": "quantitative", "axis": {"title": "Strain Rate (1/s)", "values": [0, 0.2e-15, 0.4e-15, 0.6e-15, 0.8e-15, 1.0e-15, 1.2e-15, 1.4e-15], "labelExpr": "format(datum.value*1e15, '.1f')"}},
                            "text": {"field": "label"}}}
            ]},
            {"data": {"name": "b_vel"},
             "mark": {"type": "line", "strokeWidth": 3, "strokeDash": [9, 5], "color": "#E3193B"},
             "encoding": {
               "x": {"field": "time_myr", "type": "quantitative", "scale": {"domain": [0, 100], "nice": false}, "axis": null},
               "y": {"field": "velocity_cm_yr", "type": "quantitative", "scale": {"domain": [-1.333, 2], "nice": false, "zero": false},
                     "axis": {"orient": "right", "title": "Convergence Velocity (cm/yr)", "values": [-1, -0.5, 0, 0.5, 1, 1.5, 2], "format": ".1f", "titleAngle": 270, "titleBaseline": "top", "titlePadding": 8}}
             }}
          ],
          "resolve": {"scale": {"y": "independent"}}
        }
      ],
      "spacing": 31,
      "resolve": {"scale": {"color": "independent"}}
    },
    {
      "hconcat": [
        {
          "width": 589, "height": 625,
          "title": {"text": "Strain Rate & Convergence Velocity vs Time", "dy": 24},
          "layer": [
            {"layer": [
              {"data": {"name": "c_strain"},
               "mark": {"type": "line", "strokeWidth": 3.2},
               "encoding": {
                 "x": {"field": "time_myr", "type": "quantitative", "scale": {"domain": [0, 100], "nice": false},
                       "axis": {"title": "Time (Myr)", "values": [0, 5, 10, 15, 20, 25, 30, 35, 40, 45, 50, 55, 60, 65, 70, 75, 80, 85, 90, 95, 100], "labelAngle": 0, "tickSize": 4, "labelPadding": 2, "titlePadding": 2}},
                 "y": {"field": "strain_rate", "type": "quantitative", "scale": {"domain": [0.37e-16, 6.92e-16], "nice": false, "zero": false},
                       "axis": {"title": "Strain Rate (1/s)", "values": [1e-16, 2e-16, 3e-16, 4e-16, 5e-16, 6e-16], "labelExpr": "format(datum.value*1e16, '.0f')"}},
                 "color": {"field": "model", "type": "nominal", "scale": {"range": ["#FF7F00"]}, "legend": {"title": null, "legendX": 438, "legendY": 24}}
               }},
              {"data": {"values": [{"label": "c"}]},
               "mark": {"type": "text", "font": "Open Sans", "fontSize": 30, "align": "right", "baseline": "alphabetic", "dx": -11, "dy": 5, "color": "#000"},
               "encoding": {"x": {"datum": 0, "type": "quantitative", "axis": {"title": "Time (Myr)", "values": [0, 5, 10, 15, 20, 25, 30, 35, 40, 45, 50, 55, 60, 65, 70, 75, 80, 85, 90, 95, 100], "labelAngle": 0, "tickSize": 4, "labelPadding": 2, "titlePadding": 2}},
                            "y": {"datum": 6.92e-16, "type": "quantitative", "axis": {"title": "Strain Rate (1/s)", "values": [1e-16, 2e-16, 3e-16, 4e-16, 5e-16, 6e-16], "labelExpr": "format(datum.value*1e16, '.0f')"}},
                            "text": {"field": "label"}}},
              {"data": {"values": [{"label": "1e−16"}]},
               "mark": {"type": "text", "fontSize": 10.5, "align": "left", "baseline": "bottom", "dx": 3, "dy": -1, "color": "#111"},
               "encoding": {"x": {"datum": 0, "type": "quantitative", "axis": {"title": "Time (Myr)", "values": [0, 5, 10, 15, 20, 25, 30, 35, 40, 45, 50, 55, 60, 65, 70, 75, 80, 85, 90, 95, 100], "labelAngle": 0, "tickSize": 4, "labelPadding": 2, "titlePadding": 2}},
                            "y": {"datum": 6.92e-16, "type": "quantitative", "axis": {"title": "Strain Rate (1/s)", "values": [1e-16, 2e-16, 3e-16, 4e-16, 5e-16, 6e-16], "labelExpr": "format(datum.value*1e16, '.0f')"}},
                            "text": {"field": "label"}}}
            ]},
            {"data": {"name": "c_vel"},
             "mark": {"type": "line", "strokeWidth": 3, "strokeDash": [9, 5], "color": "#FF7F00"},
             "encoding": {
               "x": {"field": "time_myr", "type": "quantitative", "scale": {"domain": [0, 100], "nice": false},
                     "axis": {"title": "Time (Myr)", "values": [0, 5, 10, 15, 20, 25, 30, 35, 40, 45, 50, 55, 60, 65, 70, 75, 80, 85, 90, 95, 100], "labelAngle": 0, "tickSize": 4, "labelPadding": 2, "titlePadding": 2}},
               "y": {"field": "velocity_cm_yr", "type": "quantitative", "scale": {"domain": [-1.08, 2], "nice": false, "zero": false},
                     "axis": {"orient": "right", "title": "Convergence Velocity (cm/yr)", "values": [-1, -0.5, 0, 0.5, 1, 1.5, 2], "format": ".1f", "titleAngle": 270, "titleBaseline": "top", "titlePadding": 8}}
             }}
          ],
          "resolve": {"scale": {"y": "independent"}}
        },
        {
          "width": 580, "height": 625,
          "title": {"text": "Strain Rate & Convergence Velocity vs Time", "dy": 24},
          "layer": [
            {"layer": [
              {"data": {"name": "d_strain"},
               "mark": {"type": "line", "strokeWidth": 3.2},
               "encoding": {
                 "x": {"field": "time_myr", "type": "quantitative", "scale": {"domain": [0, 100], "nice": false},
                       "axis": {"title": "Time (Myr)", "values": [0, 5, 10, 15, 20, 25, 30, 35, 40, 45, 50, 55, 60, 65, 70, 75, 80, 85, 90, 95, 100], "labelAngle": 0, "tickSize": 4, "labelPadding": 2, "titlePadding": 2}},
                 "y": {"field": "strain_rate", "type": "quantitative", "scale": {"domain": [0.535e-16, 4.91e-16], "nice": false, "zero": false},
                       "axis": {"title": "Strain Rate (1/s)", "values": [1.0e-16, 1.5e-16, 2.0e-16, 2.5e-16, 3.0e-16, 3.5e-16, 4.0e-16, 4.5e-16], "labelExpr": "format(datum.value*1e16, '.1f')"}},
                 "color": {"field": "model", "type": "nominal", "scale": {"range": ["#000000"]}, "legend": {"title": null, "legendX": 385, "legendY": 24}}
               }},
              {"data": {"values": [{"label": "d"}]},
               "mark": {"type": "text", "font": "Open Sans", "fontSize": 30, "align": "right", "baseline": "alphabetic", "dx": -17, "dy": 5, "color": "#000"},
               "encoding": {"x": {"datum": 0, "type": "quantitative", "axis": {"title": "Time (Myr)", "values": [0, 5, 10, 15, 20, 25, 30, 35, 40, 45, 50, 55, 60, 65, 70, 75, 80, 85, 90, 95, 100], "labelAngle": 0, "tickSize": 4, "labelPadding": 2, "titlePadding": 2}},
                            "y": {"datum": 4.91e-16, "type": "quantitative", "axis": {"title": "Strain Rate (1/s)", "values": [1.0e-16, 1.5e-16, 2.0e-16, 2.5e-16, 3.0e-16, 3.5e-16, 4.0e-16, 4.5e-16], "labelExpr": "format(datum.value*1e16, '.1f')"}},
                            "text": {"field": "label"}}},
              {"data": {"values": [{"label": "1e−16"}]},
               "mark": {"type": "text", "fontSize": 10.5, "align": "left", "baseline": "bottom", "dx": 3, "dy": -1, "color": "#111"},
               "encoding": {"x": {"datum": 0, "type": "quantitative", "axis": {"title": "Time (Myr)", "values": [0, 5, 10, 15, 20, 25, 30, 35, 40, 45, 50, 55, 60, 65, 70, 75, 80, 85, 90, 95, 100], "labelAngle": 0, "tickSize": 4, "labelPadding": 2, "titlePadding": 2}},
                            "y": {"datum": 4.91e-16, "type": "quantitative", "axis": {"title": "Strain Rate (1/s)", "values": [1.0e-16, 1.5e-16, 2.0e-16, 2.5e-16, 3.0e-16, 3.5e-16, 4.0e-16, 4.5e-16], "labelExpr": "format(datum.value*1e16, '.1f')"}},
                            "text": {"field": "label"}}}
            ]},
            {"data": {"name": "d_vel"},
             "mark": {"type": "line", "strokeWidth": 3, "strokeDash": [9, 5], "color": "#000000"},
             "encoding": {
               "x": {"field": "time_myr", "type": "quantitative", "scale": {"domain": [0, 100], "nice": false},
                     "axis": {"title": "Time (Myr)", "values": [0, 5, 10, 15, 20, 25, 30, 35, 40, 45, 50, 55, 60, 65, 70, 75, 80, 85, 90, 95, 100], "labelAngle": 0, "tickSize": 4, "labelPadding": 2, "titlePadding": 2}},
               "y": {"field": "velocity_cm_yr", "type": "quantitative", "scale": {"domain": [-1, 2], "nice": false, "zero": false},
                     "axis": {"orient": "right", "title": "Convergence Velocity (cm/yr)", "values": [-1, -0.5, 0, 0.5, 1, 1.5, 2], "format": ".1f", "titleAngle": 270, "titleBaseline": "top", "titlePadding": 8}}
             }}
          ],
          "resolve": {"scale": {"y": "independent"}}
        }
      ],
      "spacing": 42,
      "resolve": {"scale": {"color": "independent"}}
    }
  ],
  "spacing": 51,
  "resolve": {"scale": {"color": "independent"}},
  "config": {
    "font": "DejaVu Sans",
    "view": {"stroke": "#3a3a3a", "strokeWidth": 1.2},
    "axis": {"grid": false, "domain": false, "tickSize": 5, "tickColor": "#3a3a3a", "tickWidth": 1, "labelFontSize": 10, "labelPadding": 3, "labelColor": "#1a1a1a", "titleFontSize": 11.5, "titleFontWeight": "bold", "titleColor": "#1a1a1a", "titlePadding": 4},
    "legend": {"orient": "none", "symbolType": "stroke", "symbolSize": 144, "symbolStrokeWidth": 7, "labelFontSize": 15, "labelFontWeight": "bold", "labelColor": "#222", "labelLimit": 0, "padding": 5, "strokeColor": "#ececec", "fillColor": "#ffffff", "cornerRadius": 3, "labelOffset": 3},
    "title": {"fontSize": 14, "fontWeight": "bold", "color": "#111", "offset": 0, "anchor": "middle"}
  }
}
